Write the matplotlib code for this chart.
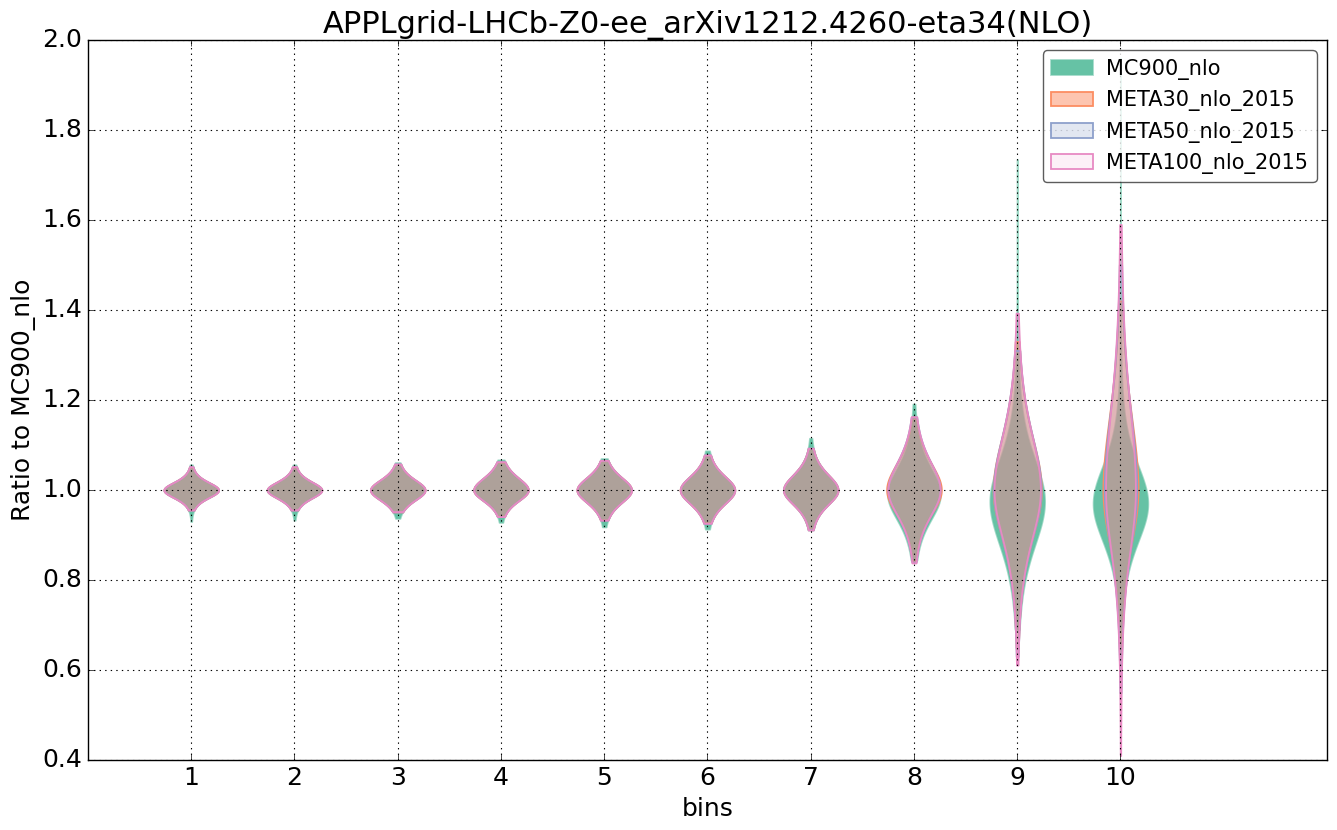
import numpy as np
import matplotlib
matplotlib.use("Agg")
import matplotlib.pyplot as plt
from matplotlib.patches import Patch
from matplotlib.colors import to_rgba

# ---------------- data ----------------
bins = [1, 2, 3, 4, 5, 6, 7, 8, 9, 10]
series_names = ["MC900_nlo", "META30_nlo_2015", "META50_nlo_2015", "META100_nlo_2015"]

# per-bin distribution summary: mode, lower/upper spread, lowest/highest replica
mc900_center = [1.000, 1.000, 1.000, 1.000, 1.000, 1.000, 1.000, 0.990, 0.975, 0.970]
mc900_sigma_lo = [0.019, 0.020, 0.025, 0.027, 0.031, 0.034, 0.037, 0.063, 0.110, 0.095]
mc900_sigma_hi = [0.019, 0.020, 0.025, 0.030, 0.031, 0.034, 0.039, 0.066, 0.105, 0.095]
mc900_min = [0.930, 0.933, 0.937, 0.928, 0.918, 0.913, 0.911, 0.844, 0.690, 0.620]
mc900_max = [1.056, 1.056, 1.061, 1.067, 1.070, 1.087, 1.115, 1.191, 1.735, 1.960]

meta30_center = [1.000, 1.000, 1.000, 1.000, 1.000, 1.000, 1.000, 1.000, 1.000, 1.000]
meta30_sigma_lo = [0.019, 0.020, 0.025, 0.027, 0.031, 0.034, 0.036, 0.060, 0.118, 0.130]
meta30_sigma_hi = [0.019, 0.020, 0.025, 0.030, 0.031, 0.034, 0.038, 0.065, 0.130, 0.180]
meta30_min = [0.955, 0.955, 0.951, 0.942, 0.934, 0.927, 0.913, 0.842, 0.650, 0.600]
meta30_max = [1.051, 1.051, 1.057, 1.062, 1.065, 1.077, 1.092, 1.160, 1.330, 1.420]

meta50_center = [1.000, 1.000, 1.000, 1.000, 1.000, 1.000, 1.000, 1.000, 1.000, 1.000]
meta50_sigma_lo = [0.019, 0.020, 0.025, 0.027, 0.031, 0.034, 0.036, 0.063, 0.120, 0.140]
meta50_sigma_hi = [0.019, 0.020, 0.025, 0.030, 0.031, 0.034, 0.038, 0.069, 0.133, 0.190]
meta50_min = [0.955, 0.955, 0.951, 0.941, 0.933, 0.926, 0.912, 0.840, 0.630, 0.550]
meta50_max = [1.052, 1.052, 1.058, 1.063, 1.066, 1.078, 1.093, 1.162, 1.310, 1.500]

meta100_center = [1.000, 1.000, 1.000, 1.000, 1.000, 1.000, 1.000, 1.000, 1.000, 1.000]
meta100_sigma_lo = [0.019, 0.020, 0.025, 0.027, 0.031, 0.034, 0.036, 0.063, 0.120, 0.150]
meta100_sigma_hi = [0.019, 0.020, 0.025, 0.030, 0.031, 0.034, 0.038, 0.069, 0.135, 0.205]
meta100_min = [0.956, 0.956, 0.952, 0.941, 0.933, 0.926, 0.911, 0.838, 0.611, 0.410]
meta100_max = [1.052, 1.052, 1.058, 1.063, 1.066, 1.078, 1.093, 1.163, 1.393, 1.590]

series_stats = [
    (mc900_center, mc900_sigma_lo, mc900_sigma_hi, mc900_min, mc900_max),
    (meta30_center, meta30_sigma_lo, meta30_sigma_hi, meta30_min, meta30_max),
    (meta50_center, meta50_sigma_lo, meta50_sigma_hi, meta50_min, meta50_max),
    (meta100_center, meta100_sigma_lo, meta100_sigma_hi, meta100_min, meta100_max),
]

# ---------------- style ----------------
plt.style.use("classic")
colors = ["#66c2a5", "#fc8d62", "#8da0cb", "#e78ac3"]
face_alpha = [1.0, 0.5, 0.25, 0.12]
NU = 5.0
MAX_WIDTH = 0.53


def density(y, c, slo, shi):
    s = np.where(y < c, slo, shi)
    return (1.0 + ((y - c) / s) ** 2 / NU) ** (-(NU + 1.0) / 2.0)


# build violin statistics
all_stats = []
peaks = np.zeros((len(series_stats), len(bins)))
for si, (cen, slo, shi, lo, hi) in enumerate(series_stats):
    stats = []
    for bi in range(len(bins)):
        coords = np.linspace(lo[bi], hi[bi], 400)
        vals = density(coords, cen[bi], slo[bi], shi[bi])
        area = np.trapezoid(vals, coords)
        vals = vals / area
        peaks[si, bi] = vals.max()
        stats.append(dict(coords=coords, vals=vals, mean=cen[bi], median=cen[bi],
                          min=lo[bi], max=hi[bi]))
    all_stats.append(stats)

# equal-area scaling within each bin
bin_max = peaks.max(axis=0)

fig = plt.figure(figsize=(13.37, 8.30), dpi=100, facecolor="white")
ax = fig.add_axes([0.0658, 0.0843, 0.9267, 0.8675])
ax.set_facecolor("white")

for si in range(len(series_stats)):
    widths = MAX_WIDTH * peaks[si] / bin_max
    parts = ax.violin(all_stats[si], positions=bins, widths=widths,
                      showmeans=False, showextrema=False, showmedians=False)
    for body in parts["bodies"]:
        body.set_facecolor(to_rgba(colors[si], face_alpha[si]))
        body.set_edgecolor(to_rgba(colors[si], 1.0 if si > 0 else 0.6))
        body.set_linewidth(1.3)
        body.set_alpha(None)

ax.set_xlim(0, 12)
ax.set_ylim(0.4, 2.0)
ax.set_xticks(bins)
ax.set_xticklabels([str(b) for b in bins])
ax.set_yticks(np.arange(0.4, 2.01, 0.2))
ax.set_yticklabels(["%.1f" % v for v in np.arange(0.4, 2.01, 0.2)])
ax.tick_params(labelsize=18)
ax.grid(True, color="black", linestyle=":", linewidth=0.8)
ax.set_xlabel("bins", fontsize=18)
ax.set_ylabel("Ratio to MC900_nlo", fontsize=18)
ax.set_title("APPLgrid-LHCb-Z0-ee_arXiv1212.4260-eta34(NLO)", fontsize=22)

handles = [Patch(facecolor=to_rgba(colors[i], face_alpha[i] if i > 0 else 1.0),
                 edgecolor=to_rgba(colors[i], 1.0 if i > 0 else 0.6), linewidth=1.3,
                 label=series_names[i]) for i in range(4)]
leg = ax.legend(handles=handles, loc="upper right", fontsize=15, fancybox=True,
                framealpha=0.8, handletextpad=0.65)
leg.get_frame().set_edgecolor("#333333")

fig.savefig("out.png", dpi=100, facecolor="white")
